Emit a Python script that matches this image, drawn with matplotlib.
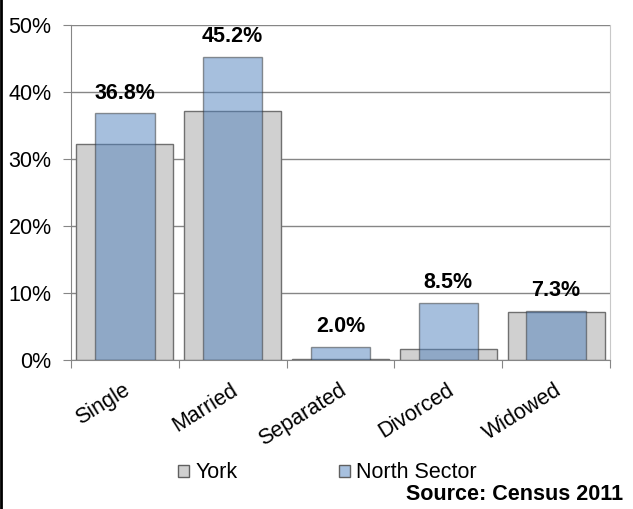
import numpy as np
import matplotlib.pyplot as plt
import matplotlib.transforms as mtransforms
from matplotlib.patches import Patch
from matplotlib.lines import Line2D
from matplotlib.ticker import FuncFormatter, MultipleLocator

plt.rcParams['font.family'] = ['Liberation Sans', 'DejaVu Sans']

categories = ["Single", "Married", "Separated", "Divorced", "Widowed"]
york = [32.3, 37.1, 0.2, 1.6, 7.2]
north_sector = [36.8, 45.2, 2.0, 8.5, 7.3]
labels = ["36.8%", "45.2%", "2.0%", "8.5%", "7.3%"]

york_color = "#D0D0D0"
ns_color = "#4F81BD"

W, H = 633, 509
fig = plt.figure(figsize=(W / 100, H / 100), dpi=100)
ax = fig.add_axes([71 / W, 1 - 360 / H, 539 / W, 335 / H])

x = np.arange(len(categories))
ax.bar(x, york, width=0.90, color=york_color, edgecolor="#707070", linewidth=1, zorder=2)
ax.bar(x, north_sector, width=0.55, color=ns_color, alpha=0.5, edgecolor="#303030",
       linewidth=1, zorder=3)

for xi, v, lab in zip(x, north_sector, labels):
    ax.annotate(lab, (xi, v), xytext=(0, 7), textcoords="offset points",
                ha="center", va="bottom", fontsize=15.5, fontweight="bold", zorder=4)

ax.set_xlim(-0.5, len(categories) - 0.5)
ax.set_ylim(0, 50)
ax.yaxis.set_major_locator(MultipleLocator(10))
ax.yaxis.set_major_formatter(FuncFormatter(lambda v, p: f"{v:.0f}%"))
ax.grid(axis="y", color="#868686", linewidth=1, zorder=0)
ax.set_axisbelow(True)

ax.set_xticks(np.arange(-0.5, len(categories), 1.0))
ax.set_xticklabels([])
ax.set_xticks(x, minor=True)
ax.set_xticklabels(categories, minor=True, rotation=32, ha="right",
                   rotation_mode="anchor", fontsize=15.5)
ax.tick_params(axis="x", which="minor", length=0, pad=14)
ax.tick_params(axis="x", which="major", length=6, color="#868686", direction="out")
ax.tick_params(axis="y", length=6, color="#868686", labelsize=15.5, pad=8)

shift = mtransforms.ScaledTranslation(-2 / 100, 0, fig.dpi_scale_trans)
for lbl in ax.get_xticklabels(minor=True):
    lbl.set_transform(lbl.get_transform() + shift)

for s in ["left", "bottom"]:
    ax.spines[s].set_color("#868686")
ax.spines["top"].set_visible(False)
ax.spines["right"].set_color("#c8c8c8")

handles = [Patch(facecolor=york_color, edgecolor="#606060"),
           Patch(facecolor="#A7C0DE", edgecolor="#606060")]
fig.legend(handles, ["York", "North Sector"], loc="center left", ncol=2,
           bbox_to_anchor=(178 / W, 1 - 473 / H), frameon=False, fontsize=15.5,
           borderpad=0, borderaxespad=0, handlelength=0.52, handleheight=0.52,
           handletextpad=0.28, columnspacing=4.7)

fig.text(623 / W, 1 - 494 / H, "Source: Census 2011", ha="right", va="center",
         fontsize=15.5, fontweight="bold")

fig.add_artist(Line2D([0.0015, 0.0015], [0, 1], color="black", linewidth=2,
                      transform=fig.transFigure))

fig.savefig("out.png", dpi=100)
